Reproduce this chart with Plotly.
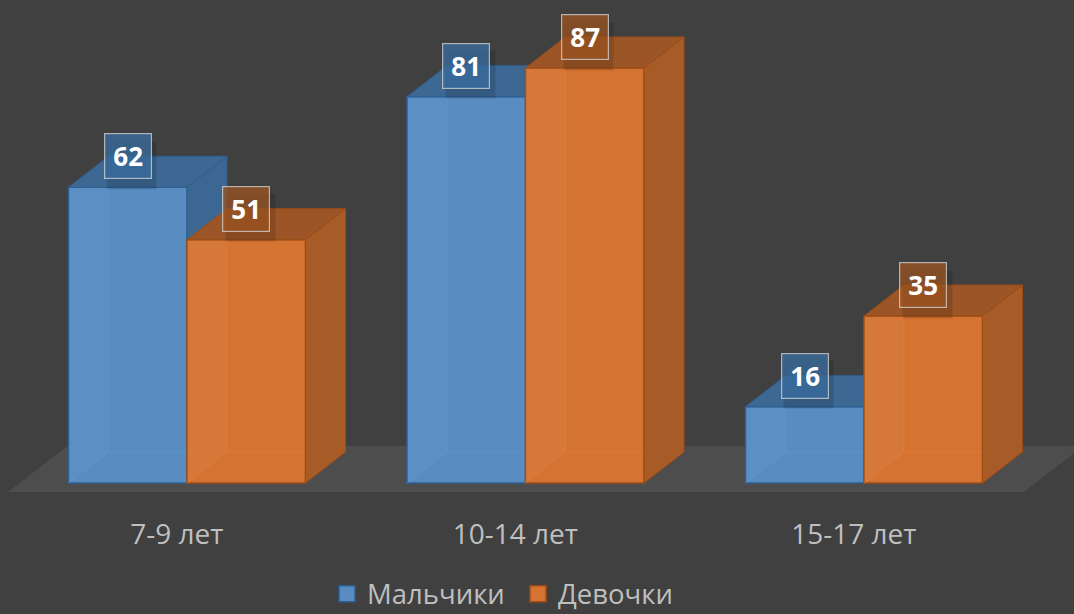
import plotly.graph_objects as go

# ---------------- data ----------------
categories = ["7-9 лет", "10-14 лет", "15-17 лет"]
boys = [62, 81, 16]
girls = [51, 87, 35]
series_names = ["Мальчики", "Девочки"]
series_values = [boys, girls]

# ---------------- geometry / style constants ----------------
W, H = 1074, 614
PLOT_H = 505            # plot area height in px (top margin 0)
BASE_PX = 483           # px row of value 0
PX_PER_UNIT_Y = 4.77
GROUP_PX = 338.5        # px between category centres
GROUP0_PX = 187         # px of first category centre
BAR_W = 0.35            # bar width in category units
DEPTH_X_PX, DEPTH_Y_PX = 40, 31

dx = DEPTH_X_PX / GROUP_PX
dy = DEPTH_Y_PX / PX_PER_UNIT_Y
y_max = BASE_PX / PX_PER_UNIT_Y
y_min = -(PLOT_H - BASE_PX) / PX_PER_UNIT_Y
x_min = -GROUP0_PX / GROUP_PX
x_max = (W - GROUP0_PX) / GROUP_PX

BG = "#404040"
FLOOR = "#4e4d4e"
TEXT = "#bfbfbf"
FONT = "Open Sans"

styles = [
    dict(front="#598dc2", top="#3d6893", side="#3c6792", edge="#2e5f92",
         inner="rgba(95,155,215,0.55)", band="rgba(255,255,255,0.025)",
         label="rgba(58,108,158,0.78)"),
    dict(front="#d57332", top="#9c5527", side="#a75b27", edge="#9f4d15",
         inner="rgba(235,128,50,0.6)", band="rgba(255,255,255,0.04)",
         label="rgba(158,84,32,0.72)"),
]

fig = go.Figure()


def poly(xs, ys, fill, edge, axes, width=1):
    return go.Scatter(
        x=list(xs) + [xs[0]], y=list(ys) + [ys[0]],
        mode="lines", fill="toself", fillcolor=fill,
        line=dict(color=edge, width=width), hoverinfo="skip",
        showlegend=False, xaxis=axes[0], yaxis=axes[1],
    )


n = len(categories)
for s, (vals, st) in enumerate(zip(series_values, styles)):
    axes = ("x", "y") if s == 0 else ("x2", "y2")
    offs = -BAR_W / 2 if s == 0 else BAR_W / 2
    centers = [i + offs for i in range(n)]
    # front faces
    fig.add_trace(go.Bar(
        x=centers, y=vals, width=BAR_W, name=series_names[s],
        marker=dict(color=st["front"], line=dict(color=st["edge"], width=1.5)),
        hoverinfo="skip", showlegend=False, xaxis=axes[0], yaxis=axes[1],
    ))
    for c, v in zip(centers, vals):
        x0, x1 = c - BAR_W / 2, c + BAR_W / 2
        # see-through left band and back edges
        fig.add_trace(poly([x0, x0 + dx, x0 + dx, x0], [0, dy, v, v],
                           st["band"], "rgba(0,0,0,0)", axes, 0))
        fig.add_trace(go.Scatter(
            x=[x0 + dx, x0 + dx, x1, None, x0, x0 + dx],
            y=[v, dy, dy, None, 0, dy],
            mode="lines", line=dict(color=st["inner"], width=1),
            hoverinfo="skip", showlegend=False, xaxis=axes[0], yaxis=axes[1],
        ))
        # right side face
        fig.add_trace(poly([x1, x1, x1 + dx, x1 + dx], [0, v, v + dy, dy],
                           st["side"], st["edge"], axes))
        # top face
        fig.add_trace(poly([x0, x1, x1 + dx, x0 + dx], [v, v, v + dy, v + dy],
                           st["top"], st["edge"], axes))
    # legend proxy
    fig.add_trace(go.Scatter(
        x=[None], y=[None], mode="markers", name=series_names[s],
        marker=dict(symbol="square", size=16, color=st["front"],
                    line=dict(color=st["edge"], width=1.5)),
        xaxis=axes[0], yaxis=axes[1],
    ))

# value labels
annotations = []
for s, (vals, st) in enumerate(zip(series_values, styles)):
    offs = -BAR_W / 2 if s == 0 else BAR_W / 2
    for i, v in enumerate(vals):
        xc = i + offs
        annotations.append(dict(
            x=xc, y=v + dy, xref="x", yref="y", text="", showarrow=False,
            width=47, height=45, bgcolor="rgba(0,0,0,0.13)",
            xshift=4, yshift=-9,
        ))
        annotations.append(dict(
            x=xc, y=v + dy, xref="x", yref="y", text=str(v), showarrow=False,
            font=dict(family=FONT, size=26, color="white", weight=700),
            width=46, height=44, borderpad=0, borderwidth=1.2,
            bgcolor=st["label"], bordercolor="rgba(215,215,215,0.75)",
        ))

# floor
fl_front, fl_back = -9 / PX_PER_UNIT_Y, 37 / PX_PER_UNIT_Y
fl_l, fl_r = (8 - GROUP0_PX) / GROUP_PX, (1024 - GROUP0_PX) / GROUP_PX
fl_d = (46 * DEPTH_X_PX / DEPTH_Y_PX) / GROUP_PX
floor_path = (f"M{fl_l},{fl_front} L{fl_r},{fl_front} L{fl_r + fl_d},{fl_back} "
              f"L{fl_l + fl_d},{fl_back} Z")

fig.update_layout(
    width=W, height=H,
    paper_bgcolor=BG, plot_bgcolor="rgba(0,0,0,0)",
    margin=dict(l=0, r=0, t=0, b=H - PLOT_H, autoexpand=False),
    font=dict(family=FONT, color=TEXT),
    barmode="overlay",
    showlegend=True,
    legend=dict(orientation="h", x=518 / W, xanchor="center", y=-0.176,
                yanchor="middle", font=dict(size=27.5, color=TEXT),
                bgcolor="rgba(0,0,0,0)", itemsizing="trace", entrywidth=146),
    xaxis=dict(range=[x_min, x_max], tickvals=[i - 0.03 for i in range(n)],
               ticktext=categories, tickfont=dict(size=28, color=TEXT),
               showgrid=False, zeroline=False, showline=False, ticks="",
               ticklabelstandoff=10, fixedrange=True, automargin=False),
    yaxis=dict(range=[y_min, y_max], visible=False, fixedrange=True),
    xaxis2=dict(range=[x_min, x_max], overlaying="x", visible=False, fixedrange=True),
    yaxis2=dict(range=[y_min, y_max], overlaying="y", visible=False, fixedrange=True),
    shapes=[dict(type="path", path=floor_path, xref="x", yref="y",
                 fillcolor=FLOOR, line=dict(width=0), layer="below")],
    annotations=annotations,
)

fig.write_html(
    "out.html",
    config={"displayModeBar": False},
    post_script="document.body.style.margin='0';document.body.style.background='#404040';",
)
